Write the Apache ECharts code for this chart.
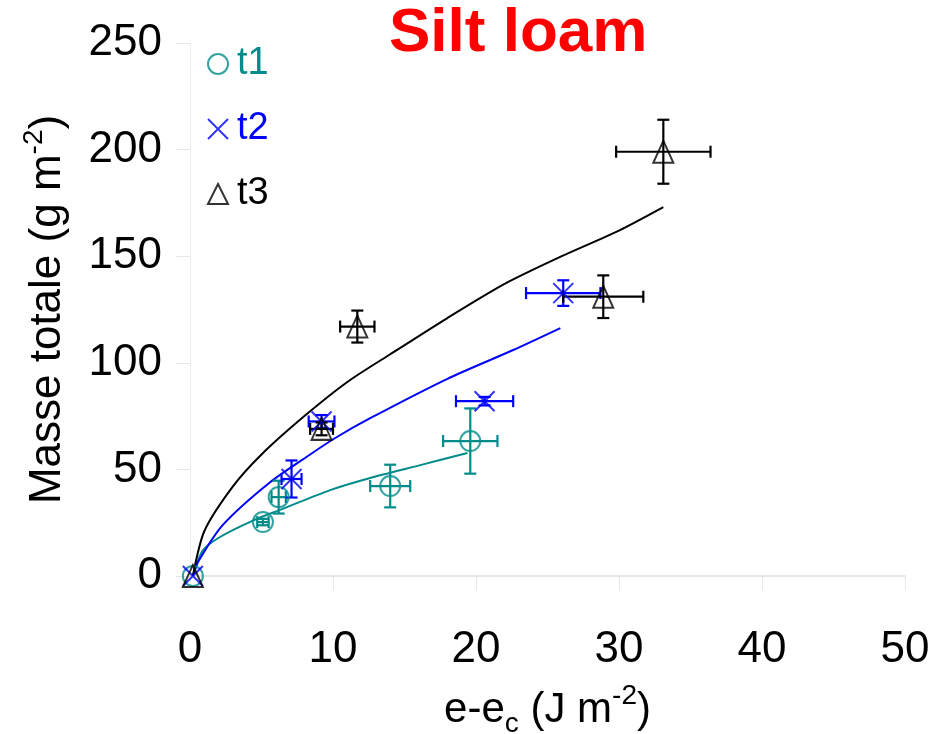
<!DOCTYPE html>
<html><head><meta charset="utf-8">
<script src="https://cdn.jsdelivr.net/npm/echarts@6/dist/echarts.min.js"></script>
<style>html,body{margin:0;padding:0;background:#fff}#c{width:944px;height:734px}</style>
</head><body><div id="c"></div>
<script>
// Measured points (x = e-ec, y = total mass) with error bars
const t1X = [0.2, 5.1, 6.2, 14.0, 19.6];
const t1Y = [0, 25.3, 37, 42.2, 63.3];
const t1XErr = [0, 0.4, 0.5, 1.4, 1.9];
const t1YErr = [0, 1.5, 7.7, 10, 15.3];

const t2X = [0.2, 7.1, 9.2, 20.6, 26.1];
const t2Y = [0, 45.5, 72.5, 82, 132.7];
const t2XErr = [0, 0.7, 0.9, 2.0, 2.6];
const t2YErr = [0, 8.7, 3, 2, 6];

const t3X = [0.2, 9.2, 11.7, 28.9, 33.1];
const t3Y = [0, 69, 117, 131, 199];
const t3XErr = [0, 0.8, 1.2, 2.8, 3.3];
const t3YErr = [0, 3, 7.5, 10, 15];

// Fitted curves
const t1FitX = [0.2, 0.9, 2.1, 4.4, 6.3, 9.8, 12.6, 16.1, 19.4];
const t1FitY = [0, 12, 18.3, 26, 31, 40.3, 46, 52, 57.7];
const t2FitX = [0.2, 0.6, 2.3, 5.6, 8.4, 10.1, 12.6, 18, 22.6, 25.9];
const t2FitY = [0, 7, 24, 44, 57, 64.5, 74, 92.5, 106, 116.3];
const t3FitX = [0.2, 1, 3, 5, 8, 11, 14, 18, 22, 26, 30, 33.1];
const t3FitY = [0, 21, 42, 57, 75, 91, 104, 121, 137, 150, 162, 173];

const seriesNames = ['t1', 't2', 't3'];
const titleText = 'Silt loam';

const FONT = 'Liberation Sans';
const colors = ['#008b8b', '#0000ff', '#000000'];

function pts(xs, ys) { return xs.map((x, i) => [x, ys[i]]); }
function errs(xs, ys, xe, ye) { return xs.map((x, i) => [x, ys[i], xe[i], ye[i]]); }

function errSeries(name, data, color) {
  return {
    type: 'custom', name: name, data: data, clip: false, z: 3,
    encode: { x: 0, y: 1 },
    renderItem: function (params, api) {
      const x = api.value(0), y = api.value(1), xe = api.value(2), ye = api.value(3);
      const ch = [];
      const cap = 6;
      const st = { stroke: color, lineWidth: 2.2, fill: null };
      if (xe > 0) {
        const l = api.coord([x - xe, y]), r = api.coord([x + xe, y]);
        ch.push({ type: 'line', shape: { x1: l[0], y1: l[1], x2: r[0], y2: r[1] }, style: st });
        ch.push({ type: 'line', shape: { x1: l[0], y1: l[1] - cap, x2: l[0], y2: l[1] + cap }, style: st });
        ch.push({ type: 'line', shape: { x1: r[0], y1: r[1] - cap, x2: r[0], y2: r[1] + cap }, style: st });
      }
      if (ye > 0) {
        const t = api.coord([x, y + ye]), b = api.coord([x, y - ye]);
        ch.push({ type: 'line', shape: { x1: t[0], y1: t[1], x2: b[0], y2: b[1] }, style: st });
        ch.push({ type: 'line', shape: { x1: t[0] - cap, y1: t[1], x2: t[0] + cap, y2: t[1] }, style: st });
        ch.push({ type: 'line', shape: { x1: b[0] - cap, y1: b[1], x2: b[0] + cap, y2: b[1] }, style: st });
      }
      return { type: 'group', children: ch };
    }
  };
}
function fitSeries(name, data, color) {
  return { type: 'line', name: name, data: data, showSymbol: false, smooth: 0.25, z: 2,
    lineStyle: { color: color, width: 2 }, itemStyle: { color: color }, silent: true };
}
function ptSeries(name, data, color, symbol, size) {
  return { type: 'scatter', name: name, data: data, symbol: symbol, symbolSize: size, z: 4,
    itemStyle: { color: 'rgba(0,0,0,0)', borderColor: color, borderWidth: 2 } };
}

const chart = echarts.init(document.getElementById('c'), null, { renderer: 'canvas' });
chart.setOption({
  animation: false,
  backgroundColor: '#fff',
  textStyle: { fontFamily: FONT },
  title: { text: titleText, left: 384, top: -2,
    textStyle: { color: '#ff0000', fontSize: 62, fontWeight: 'bold', fontFamily: FONT } },
  legend: {
    orient: 'vertical', left: 202, top: 40, itemWidth: 20, itemHeight: 20, itemGap: 27,
    textStyle: { fontSize: 38, fontFamily: FONT, padding: [0, 0, 0, 4] },
    data: seriesNames.map((n, i) => ({ name: n, textStyle: { color: colors[i] } }))
  },
  grid: { left: 190, right: 39, top: 43, bottom: 158, containLabel: false, outerBoundsMode: 'none' },
  xAxis: {
    type: 'value', min: 0, max: 50, interval: 10,
    name: 'e-e{sub|c} (J m{sup|-2})', nameLocation: 'middle', nameGap: 106,
    nameTextStyle: { fontSize: 42, color: '#000', fontFamily: FONT, lineHeight: 56,
      rich: { sub: { fontSize: 28, lineHeight: 28, verticalAlign: 'bottom', color: '#000' },
              sup: { fontSize: 28, lineHeight: 28, verticalAlign: 'top', color: '#000' } } },
    axisLine: { show: true, lineStyle: { color: '#e6e6e6', width: 2 } },
    axisTick: { show: true, length: 14, lineStyle: { color: '#e6e6e6', width: 1 } },
    axisLabel: { fontSize: 44, color: '#000', margin: 52, fontFamily: FONT },
    splitLine: { show: false }
  },
  yAxis: {
    type: 'value', min: 0, max: 250, interval: 50,
    name: 'Masse totale (g m{sup|-2})', nameLocation: 'middle', nameGap: 114,
    nameTextStyle: { fontSize: 44, color: '#000', fontFamily: FONT, lineHeight: 56,
      rich: { sup: { fontSize: 28, lineHeight: 28, verticalAlign: 'top', color: '#000' } } },
    axisLine: { show: true, lineStyle: { color: '#eeeeee', width: 1 } },
    axisTick: { show: true, length: 14, lineStyle: { color: '#e6e6e6', width: 1 } },
    axisLabel: { fontSize: 44, color: '#000', margin: 28, fontFamily: FONT },
    splitLine: { show: false }
  },
  series: [
    fitSeries('t1 fit', pts(t1FitX, t1FitY), colors[0]),
    fitSeries('t2 fit', pts(t2FitX, t2FitY), colors[1]),
    fitSeries('t3 fit', pts(t3FitX, t3FitY), colors[2]),
    errSeries('t1 err', errs(t1X, t1Y, t1XErr, t1YErr), colors[0]),
    errSeries('t2 err', errs(t2X, t2Y, t2XErr, t2YErr), colors[1]),
    errSeries('t3 err', errs(t3X, t3Y, t3XErr, t3YErr), colors[2]),
    ptSeries('t1', pts(t1X, t1Y), colors[0], 'circle', 20),
    ptSeries('t2', pts(t2X, t2Y), colors[1], 'path://M0,0L20,20M20,0L0,20', 20),
    ptSeries('t3', pts(t3X, t3Y), colors[2], 'triangle', [20, 22])
  ]
});
</script></body></html>
